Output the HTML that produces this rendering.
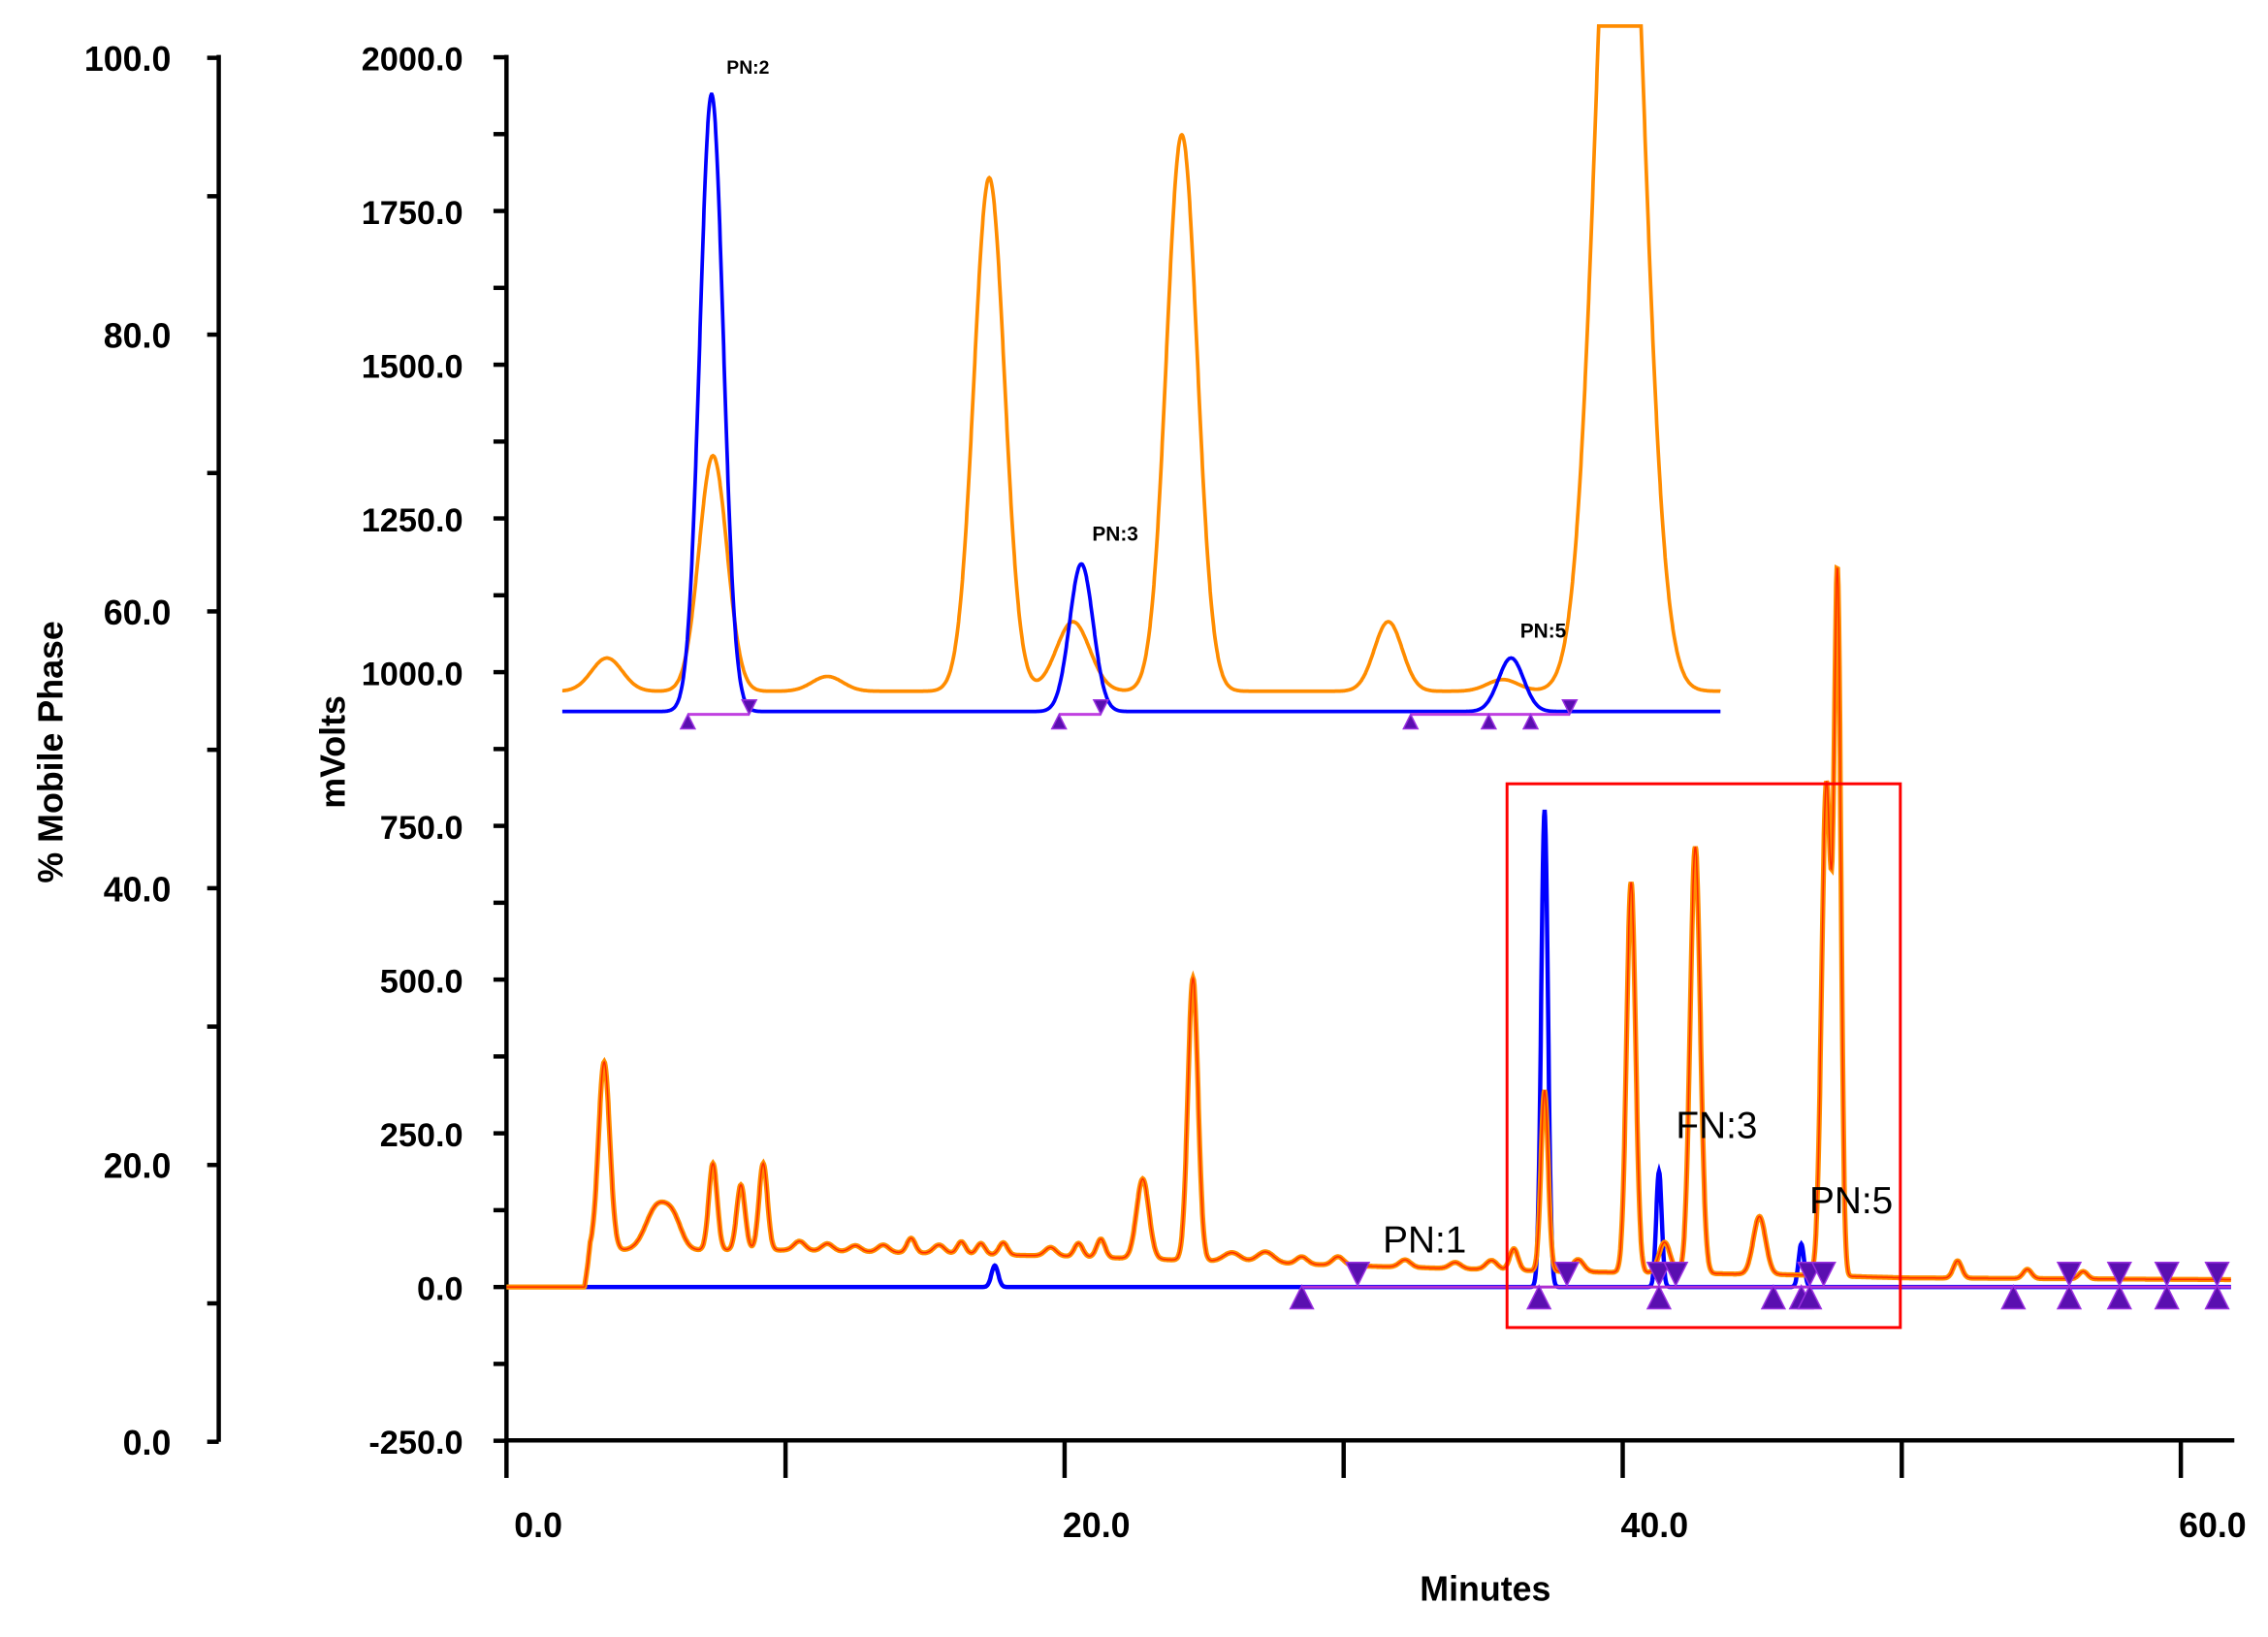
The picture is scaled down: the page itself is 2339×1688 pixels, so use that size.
<!DOCTYPE html>
<html><head><meta charset="utf-8"><style>
html,body{margin:0;padding:0;background:#fff;}
svg{display:block;}
text{font-family:"Liberation Sans",sans-serif;font-weight:bold;fill:#000;}
</style></head><body>
<svg id="chart" width="2339" height="1688" viewBox="0 0 1568 1132" xmlns="http://www.w3.org/2000/svg">
<g id="axes"></g>
<g id="series"></g>
<g id="marks"></g>
<rect x="1042" y="542" width="272" height="376" fill="none" stroke="#ff0000" stroke-width="2"/>
<text x="517" y="51" font-size="13" text-anchor="middle">PN:2</text>
<text x="771" y="374" font-size="14" text-anchor="middle">PN:3</text>
<text x="1067" y="441" font-size="14" text-anchor="middle">PN:5</text>
<text x="985" y="866" font-size="26" text-anchor="middle" style="font-weight:normal">PN:1</text>
<text x="1187" y="787" font-size="26" text-anchor="middle" style="font-weight:normal">FN:3</text>
<text x="1280" y="839" font-size="26" text-anchor="middle" style="font-weight:normal">PN:5</text>
<text x="1027" y="1107" font-size="24" text-anchor="middle">Minutes</text>
<text transform="translate(238,520) rotate(-90)" font-size="24" text-anchor="middle">mVolts</text>
<text transform="translate(43,520) rotate(-90)" font-size="24" text-anchor="middle">% Mobile Phase</text>
</svg>
<script>
const NS="http://www.w3.org/2000/svg";
// ---- data ----
const xTicks=[0,20,40,60];
const mvTicks=[-250,0,250,500,750,1000,1250,1500,1750,2000];
const pctTicks=[0,20,40,60,80,100];
// upper orange trace peaks
const upOrCenters=[3.6,7.4,11.5,17.3,20.3,24.2,31.6,35.7,39.9];
const upOrHeights=[54,383,24,835,113,905,113,19,1700];
const upOrSigmas=[0.55,0.5,0.55,0.55,0.6,0.55,0.5,0.55,0.8];
const upOrBase=969;
// upper blue trace peaks
const upBlCenters=[7.35,20.6,36.0];
const upBlHeights=[1004,240,87];
const upBlSigmas=[0.42,0.42,0.45];
const upBlBase=936;
// lower orange trace
const loOrCenters=[3.5,5.4,6.0,7.4,8.4,9.2,10.5,11.5,12.5,13.5,14.5,15.5,16.3,17.0,17.8,19.5,20.5,21.3,22.8,24.6,26.0,27.2,28.5,29.8,32.2,34.0,35.3,36.1,37.2,38.4,40.3,41.5,42.6,44.9,47.3,47.7,52.0,54.5,56.5];
const loOrHeights=[306,70,40,141,106,141,15,12,10,12,24,14,20,18,20,14,22,30,130,459,15,18,12,14,12,10,15,35,294,20,635,50,694,94,800,1100,28,15,12];
const loOrSigmas=[0.2,0.4,0.3,0.15,0.15,0.15,0.2,0.2,0.2,0.2,0.15,0.2,0.15,0.15,0.15,0.2,0.15,0.15,0.22,0.18,0.3,0.3,0.2,0.2,0.2,0.2,0.2,0.15,0.13,0.2,0.16,0.2,0.18,0.22,0.17,0.12,0.15,0.15,0.15];
const loBaseTimes=[2.8,3.0,10,20,30,38,46,50,62];
const loBaseVals=[0,60,60,50,35,25,20,15,12];
// lower blue trace
const loBlCenters=[17.5,37.2,41.3,46.4];
const loBlHeights=[35,776,188,70];
const loBlSigmas=[0.12,0.12,0.1,0.1];
// markers
const upperUp=[6.5,19.8,32.4,35.2,36.7];
const upperDown=[8.7,21.3,38.1];
const lowerUp=[28.5,37,41.3,45.4,46.4,46.7,54,56,57.8,59.5,61.3];
const lowerDown=[30.5,38,41.3,41.9,46.7,47.2,56,57.8,59.5,61.3];

// ---- axes functions ----
const X=t=>350+t*(1122-350)/40;
const Y=v=>890-v*0.4252;
const P=p=>997-p*9.57;

function el(tag,attrs,parent){const e=document.createElementNS(NS,tag);for(const k in attrs)e.setAttribute(k,attrs[k]);parent.appendChild(e);return e;}
const axes=document.getElementById('axes');
let a=el('line',{x1:151,y1:38,x2:151,y2:997,stroke:'#000','stroke-width':3},axes);


for(let p=0;p<=100;p+=10){el('line',{x1:143,y1:P(p),x2:151,y2:P(p),stroke:'#000','stroke-width':3},axes);}
pctTicks.forEach(p=>{const t=el('text',{x:118,y:P(p)+9,'font-size':24,'text-anchor':'end'},axes);t.textContent=p.toFixed(1);

});
a=el('line',{x1:350,y1:38,x2:350,y2:997,stroke:'#000','stroke-width':3},axes);


for(let v=-250;v<=2000;v+=125){el('line',{x1:341,y1:Y(v),x2:350,y2:Y(v),stroke:'#000','stroke-width':3},axes);}
mvTicks.forEach(v=>{const t=el('text',{x:320,y:Y(v)+9,'font-size':23,'text-anchor':'end'},axes);t.textContent=v.toFixed(1);

});
a=el('line',{x1:350,y1:996,x2:1545,y2:996,stroke:'#000','stroke-width':3},axes);


for(let t=0;t<=60;t+=10){el('line',{x1:X(t),y1:996,x2:X(t),y2:1022,stroke:'#000','stroke-width':3},axes);}
xTicks.forEach(v=>{const t=el('text',{x:X(v)+22,y:1063,'font-size':24,'text-anchor':'middle'},axes);t.textContent=v.toFixed(1);

});

function gsum(t,c,h,s){let y=0;for(let i=0;i<c.length;i++){const d=(t-c[i])/s[i];y+=h[i]*Math.exp(-0.5*d*d);}return y;}
function interp(t,xs,ys){if(t<=xs[0])return ys[0];for(let i=1;i<xs.length;i++){if(t<=xs[i]){const f=(t-xs[i-1])/(xs[i]-xs[i-1]);return ys[i-1]+f*(ys[i]-ys[i-1]);}}return ys[ys.length-1];}
function path(t0,t1,f){let d='';for(let t=t0;t<=t1+1e-9;t+=0.02){let y=Math.max(Y(f(t)),18);d+=(d?'L':'M')+X(t).toFixed(1)+','+y.toFixed(1);}return d;}
const S=document.getElementById('series');
let p;
p=el('path',{d:path(2,43.5,t=>upOrBase+gsum(t,upOrCenters,upOrHeights,upOrSigmas)),fill:'none',stroke:'#ff8c00','stroke-width':2.5},S);


p=el('path',{d:path(2,43.5,t=>upBlBase+gsum(t,upBlCenters,upBlHeights,upBlSigmas)),fill:'none',stroke:'#0000ff','stroke-width':2.5},S);


p=el('path',{d:path(2.8,61.8,t=>gsum(t,loBlCenters,loBlHeights,loBlSigmas)),fill:'none',stroke:'#0000ff','stroke-width':3},S);


const loF=t=>t<2.8?0:interp(t,loBaseTimes,loBaseVals)+gsum(t,loOrCenters,loOrHeights,loOrSigmas);
p=el('path',{d:path(0,61.8,loF),fill:'none',stroke:'#ff8c00','stroke-width':3.5},S);


p=el('path',{d:path(0,61.8,loF),fill:'none',stroke:'#ff2a00','stroke-width':1},S);



const M=document.getElementById('marks');
function tri(t,y,up,sz){const x=X(t);const pts=up?`${x-sz},${y+sz} ${x+sz},${y+sz} ${x},${y-sz}`:`${x-sz},${y-sz} ${x+sz},${y-sz} ${x},${y+sz}`;return el('polygon',{points:pts,fill:'#5a0fb0',stroke:'#9a30e0','stroke-width':1},M);}
[[6.5,8.7],[19.8,21.3],[32.4,38.1]].forEach(r=>{const l=el('line',{x1:X(r[0]),y1:494,x2:X(r[1]),y2:494,stroke:'#c040e0','stroke-width':2},M);

});
upperUp.forEach(t=>{const e=tri(t,499,true,5);

});
upperDown.forEach(t=>{const e=tri(t,489,false,5);

});
const lb=el('line',{x1:X(28.5),y1:890,x2:X(61.8),y2:890,stroke:'#b030d0','stroke-width':2},M);


lowerUp.forEach(t=>{const e=tri(t,897,true,8);

});
lowerDown.forEach(t=>{const e=tri(t,881,false,8);

});
</script>
</body></html>
